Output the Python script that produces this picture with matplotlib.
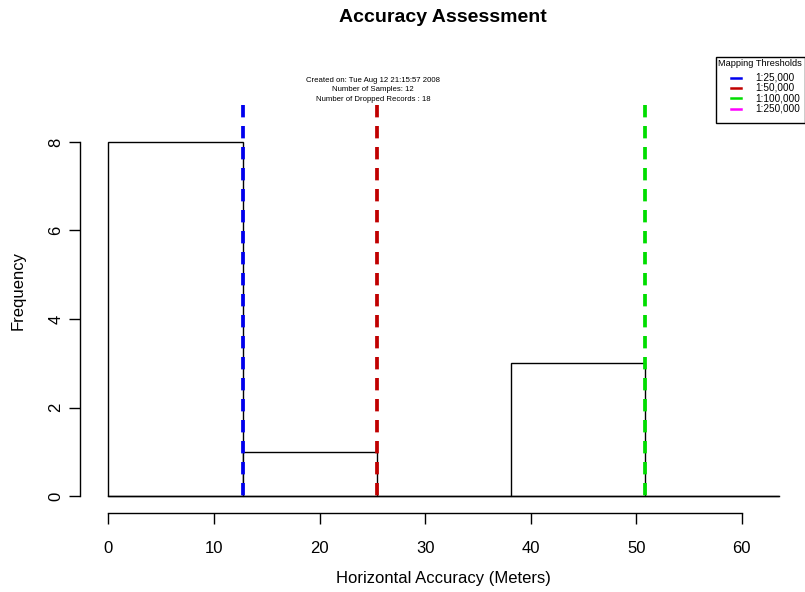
import matplotlib
matplotlib.use("Agg")
import matplotlib.pyplot as plt
from matplotlib.lines import Line2D
from matplotlib.patches import Rectangle

plt.rcParams['font.family'] = ['Liberation Sans', 'DejaVu Sans']

# Data
breaks = [0, 12.7, 25.4, 38.1, 50.8, 63.5]
counts = [8, 1, 0, 3, 0]
thresholds = [12.7, 25.4, 50.8]
threshold_colors = ['#0000EE', '#C00000', '#00DD00']
legend_title = "Mapping Thresholds"
legend_labels = ['1:25,000', '1:50,000', '1:100,000', '1:250,000']
legend_colors = ['#0000EE', '#C00000', '#00DD00', '#FF00FF']
info_lines = ["Created on: Tue Aug 12 21:15:57 2008",
              "Number of Samples: 12",
              "Number of Dropped Records : 18"]
xticks = [0, 10, 20, 30, 40, 50, 60]
yticks = [0, 2, 4, 6, 8]

W, H = 805, 592
fig = plt.figure(figsize=(W / 100, H / 100), dpi=100)
left, right, top, bottom = 80, 805, 60, 513
ax = fig.add_axes([left / W, 1 - bottom / H, (right - left) / W, (bottom - top) / H])

widths = [b - a for a, b in zip(breaks[:-1], breaks[1:])]
ax.bar(breaks[:-1], counts, width=widths, align='edge', facecolor='white',
       edgecolor='black', linewidth=1.0)
ax.plot([breaks[0], breaks[-1]], [0, 0], color='black', lw=1.0)

for xv, c in zip(thresholds, threshold_colors):
    ax.plot([xv, xv], [8.84, 0], color=c, lw=2.7, dashes=(3.3, 2.3),
            solid_capstyle='butt', dash_capstyle='butt')

ax.set_xlim(-2.7, 66.0)
ax.set_ylim(-0.38, 9.85)

for s in ['top', 'right']:
    ax.spines[s].set_visible(False)
ax.spines['left'].set_bounds(0, 8)
ax.spines['bottom'].set_bounds(0, 60)
ax.spines['left'].set_linewidth(1.0)
ax.spines['bottom'].set_linewidth(1.0)

ax.set_xticks(xticks)
ax.set_yticks(yticks)
ax.set_yticklabels([str(v) for v in yticks], rotation=90, va='center')
ax.tick_params(axis='both', direction='out', length=8, width=1.0,
               labelsize=12, colors='black')
ax.tick_params(axis='x', pad=12)
ax.tick_params(axis='y', pad=4)

fig.text((left + right) / 2 / W, 1 - 18 / H, "Accuracy Assessment",
         ha='center', va='center', fontsize=14, fontweight='bold')
fig.text(443 / W, 1 - 578 / H, "Horizontal Accuracy (Meters)",
         ha='center', va='center', fontsize=12)
fig.text(18 / W, 1 - 290 / H, "Frequency", ha='center', va='center',
         fontsize=12, rotation=90)

for i, t in enumerate(info_lines):
    fig.text(373 / W, 1 - (80 + 10 * i) / H, t, ha='center', va='center',
             fontsize=5.6)

# Legend drawn manually (R-style box)
fig.patches.append(Rectangle((716 / W, 1 - 123 / H), (804.5 - 716) / W, (123 - 57) / H,
                             transform=fig.transFigure, facecolor='white',
                             edgecolor='black', linewidth=1.0, zorder=5))
fig.text(760 / W, 1 - 63 / H, legend_title, ha='center', va='center',
         fontsize=6.7, zorder=6)
for i, (lab, c) in enumerate(zip(legend_labels, legend_colors)):
    yy = 1 - (77.5 + 10.4 * i) / H
    fig.lines.append(Line2D([731 / W, 741 / W], [yy, yy], transform=fig.transFigure,
                            color=c, lw=1.8, zorder=6))
    fig.text(755 / W, yy, lab, ha='left', va='center', fontsize=7.2, zorder=6)

fig.savefig("out.png", dpi=100)
